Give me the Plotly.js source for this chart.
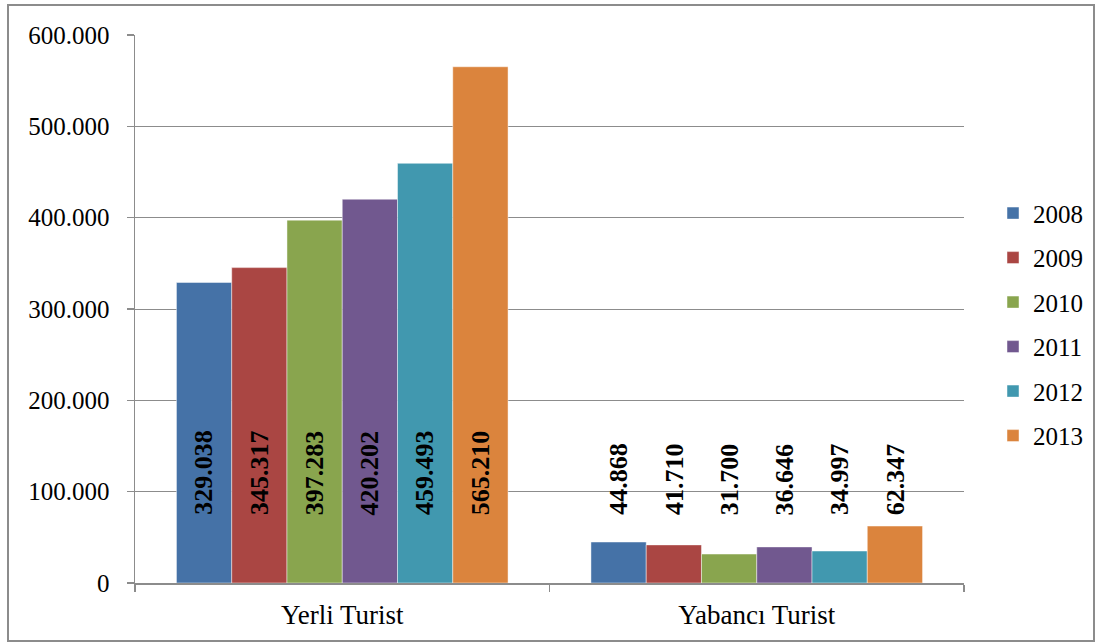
<!DOCTYPE html>
<html>
<head>
<meta charset="utf-8">
<script src="https://cdn.plot.ly/plotly-3.0.1.min.js"></script>
<style>
  html, body { margin: 0; padding: 0; background: #fff; }
  #wrap { position: relative; width: 1101px; height: 643px; }
  #chart { width: 1101px; height: 643px; }
  #frame { position: absolute; left: 7px; top: 4px; width: 1084px; height: 634px;
           border: 2px solid #8c8c8c; pointer-events: none; }
</style>
</head>
<body>
<div id="wrap">
  <div id="chart"></div>
  <div id="frame"></div>
</div>
<script>
// ---- data ----
const categories = ["Yerli Turist", "Yabancı Turist"];
const years = ["2008", "2009", "2010", "2011", "2012", "2013"];
const yerliValues   = [329038, 345317, 397283, 420202, 459493, 565210];
const yabanciValues = [44868, 41710, 31700, 39500, 34997, 62347];
const yerliLabels   = ["329.038", "345.317", "397.283", "420.202", "459.493", "565.210"];
const yabanciLabels = ["44.868", "41.710", "31.700", "36.646", "34.997", "62.347"];
const yTickVals = [0, 100000, 200000, 300000, 400000, 500000, 600000];
const colors = ["#4572A7", "#AA4643", "#89A54E", "#71588F", "#4198AF", "#DB843D"];

const FONT = "Liberation Serif, Times New Roman, serif";
const LABEL_BASE = 72000;

const plotW = 1101 - 135 - 137;
const barW = plotW / categories.length * 0.8 / years.length;

const traces = years.map((yr, i) => ({
  type: 'bar',
  name: yr,
  x: categories,
  y: [yerliValues[i], yabanciValues[i]],
  marker: { color: colors[i], line: { color: 'rgba(255,255,255,0.45)', width: 1 } },
  legendgroup: 'g' + i,
  hoverinfo: 'skip'
}));

const annotations = [];
years.forEach((yr, i) => {
  [yerliLabels[i], yabanciLabels[i]].forEach((lab, j) => {
    annotations.push({
      x: categories[j], y: LABEL_BASE, xref: 'x', yref: 'y',
      text: '<b>' + lab + '</b>', showarrow: false, textangle: -90,
      xanchor: 'center', yanchor: 'bottom',
      xshift: (i - 2.5) * barW,
      font: { family: FONT, size: 26, color: '#000' }
    });
  });
});

const layout = {
  width: 1101, height: 643,
  margin: { l: 135, r: 137, t: 35, b: 60 },
  paper_bgcolor: '#fff', plot_bgcolor: '#fff',
  separators: ',.',
  barmode: 'group',
  bargap: 0.2, bargroupgap: 0,
  font: { family: FONT, size: 25, color: '#000' },
  showlegend: true,
  legend: {
    x: 1.035, xanchor: 'left', y: 0.472, yanchor: 'middle',
    font: { family: FONT, size: 25, color: '#000' },
    traceorder: 'grouped', tracegroupgap: 9,
    itemwidth: 30,
    bgcolor: 'rgba(0,0,0,0)'
  },
  xaxis: {
    type: 'category',
    tickson: 'boundaries',
    ticks: 'outside', ticklen: 7, tickcolor: '#8c8c8c', tickwidth: 1.5,
    ticklabelstandoff: 7,
    showline: true, linecolor: '#8c8c8c', linewidth: 2,
    showgrid: false, zeroline: false,
    tickfont: { family: FONT, size: 27, color: '#000' },
    fixedrange: true
  },
  yaxis: {
    range: [0, 600000],
    tickvals: yTickVals,
    tickformat: ',d',
    ticks: 'outside', ticklen: 7, tickcolor: '#8c8c8c', tickwidth: 1.5,
    ticklabelstandoff: 12,
    showline: true, linecolor: '#8c8c8c', linewidth: 1.5,
    showgrid: true, gridcolor: '#8c8c8c', gridwidth: 1,
    zeroline: false,
    tickfont: { family: FONT, size: 25, color: '#000' },
    fixedrange: true
  },
  annotations: annotations
};

Plotly.newPlot('chart', traces, layout, { displayModeBar: false, staticPlot: true });
</script>
</body>
</html>
